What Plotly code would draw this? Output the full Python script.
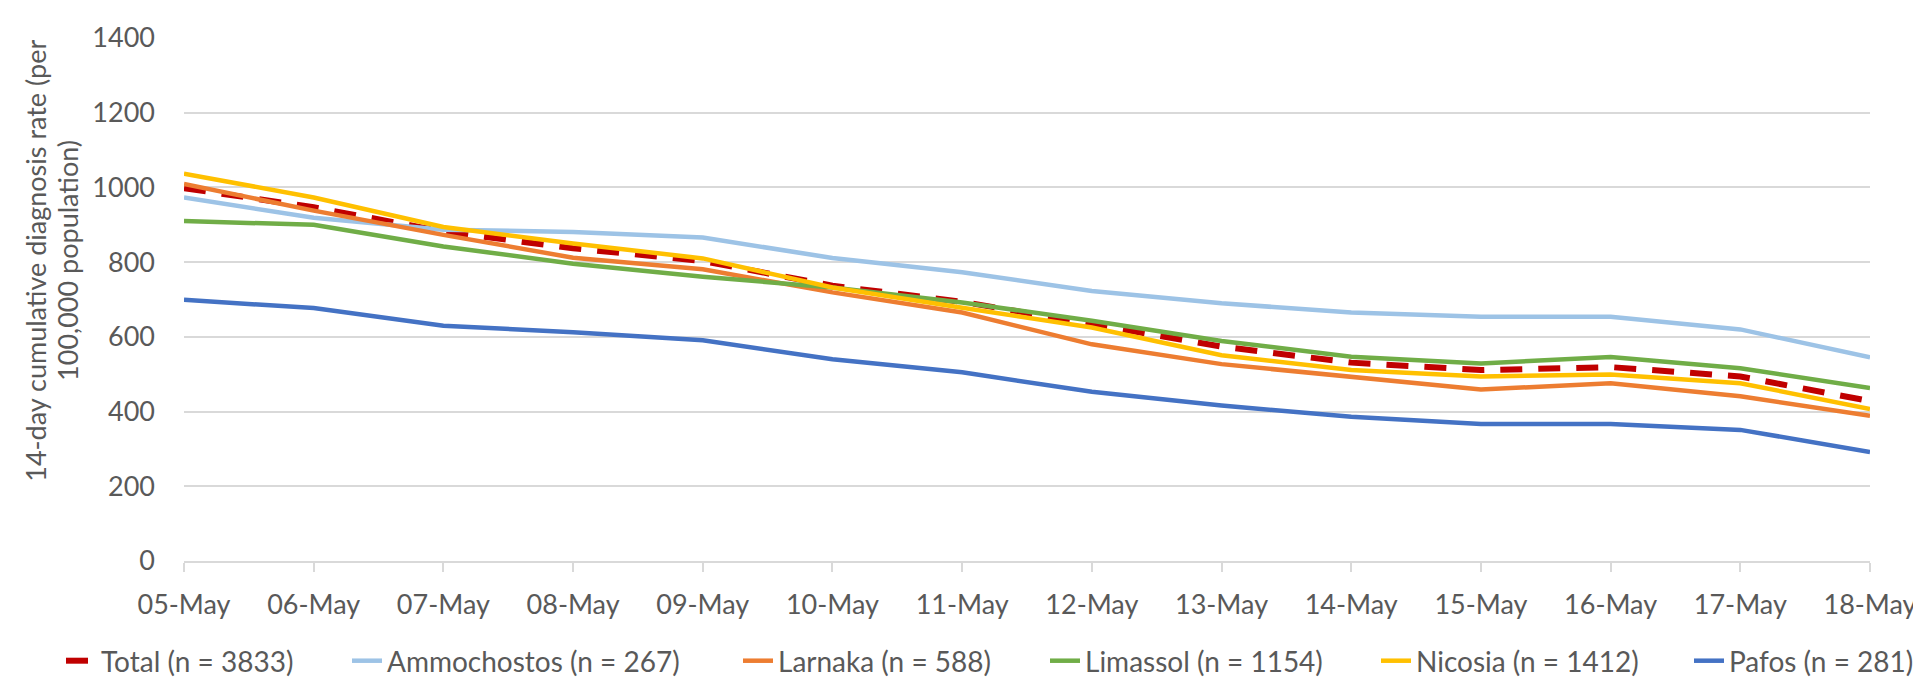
import plotly.graph_objects as go

dates = ["05-May", "06-May", "07-May", "08-May", "09-May", "10-May", "11-May",
         "12-May", "13-May", "14-May", "15-May", "16-May", "17-May", "18-May"]

total = [998, 947, 882, 837, 803, 737, 694, 636, 574, 531, 511, 519, 494, 428]
ammochostos = [973, 919, 887, 881, 866, 811, 773, 723, 690, 665, 654, 654, 620, 545]
larnaka = [1009, 938, 873, 812, 781, 719, 665, 580, 527, 494, 459, 476, 441, 389]
limassol = [910, 900, 842, 796, 761, 732, 692, 643, 589, 547, 529, 546, 516, 463]
nicosia = [1037, 973, 894, 850, 810, 732, 678, 625, 551, 511, 494, 499, 476, 407]
pafos = [699, 677, 630, 612, 591, 540, 505, 453, 416, 386, 367, 367, 351, 292]

y_title_lines = ["14-day cumulative diagnosis rate (per", "100,000 population)"]

series = [
    ("Total (n = 3833)", total, "#C00000", "22px,16px", 6),
    ("Ammochostos (n = 267)", ammochostos, "#9DC3E6", "solid", 4.5),
    ("Larnaka (n = 588)", larnaka, "#ED7D31", "solid", 4.5),
    ("Limassol (n = 1154)", limassol, "#70AD47", "solid", 4.5),
    ("Nicosia (n = 1412)", nicosia, "#FFC000", "solid", 4.5),
    ("Pafos (n = 281)", pafos, "#4472C4", "solid", 4.5),
]

# left edge (px) of each legend entry along the bottom row
legend_left_px = [53, 339, 730, 1037, 1368, 1681]

FONT = "Lato, Open Sans, sans-serif"
TXT = "#595959"
W, H = 1921, 678

fig = go.Figure()
legend_layouts = {}
for i, (name, vals, color, dash, w) in enumerate(series):
    key = "legend" if i == 0 else f"legend{i + 1}"
    fig.add_trace(go.Scatter(
        x=dates, y=vals, mode="lines", name=name, legend=key,
        line=dict(color=color, width=w, dash=dash),
    ))
    legend_layouts[key] = dict(
        orientation="h", xref="container", yref="container",
        x=legend_left_px[i] / W, xanchor="left", y=-0.008, yanchor="bottom",
        font=dict(family=FONT, size=28, color=TXT),
        itemwidth=30, bgcolor="rgba(0,0,0,0)",
    )

for xpos, line in zip([-0.0881, -0.069], y_title_lines):
    fig.add_annotation(
        text=line, textangle=-90, showarrow=False,
        xref="paper", yref="paper", x=xpos, y=0.575,
        xanchor="center", yanchor="middle",
        font=dict(family=FONT, size=27, color=TXT),
    )

fig.update_layout(
    width=W, height=H,
    paper_bgcolor="white", plot_bgcolor="white",
    margin=dict(l=176, r=54, t=23, b=125),
    font=dict(family=FONT, size=27, color=TXT),
    showlegend=True,
    xaxis=dict(type="category", range=[0, 13], showgrid=False,
               showline=True, linecolor="#d9d9d9", linewidth=1.5,
               ticks="outside", ticklen=9, tickcolor="#d9d9d9", tickwidth=1.5,
               ticklabelstandoff=10,
               tickfont=dict(family=FONT, size=27, color=TXT)),
    yaxis=dict(range=[0, 1400], dtick=200, showgrid=True, gridcolor="#d9d9d9",
               gridwidth=1.5, zeroline=False, showline=False,
               ticks="", ticklabelstandoff=28,
               tickfont=dict(family=FONT, size=27, color=TXT)),
    **legend_layouts,
)

fig.write_html("out.html")
